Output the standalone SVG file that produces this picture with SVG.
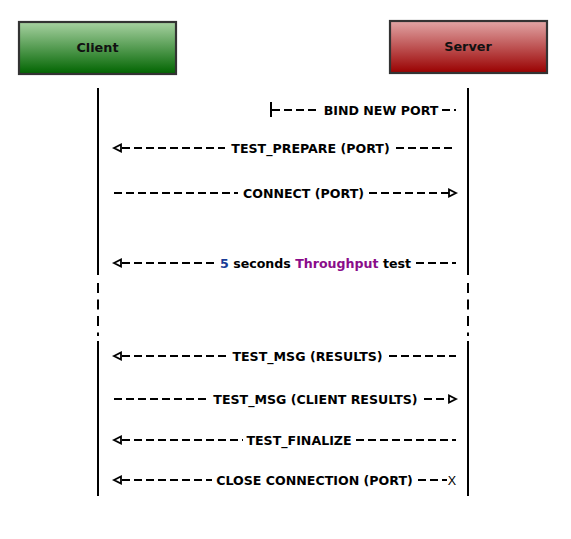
<svg xmlns="http://www.w3.org/2000/svg" width="571" height="539" viewBox="0 0 571 539">
<defs>
<linearGradient id="gC" x1="0" y1="0" x2="0" y2="1">
<stop offset="0" stop-color="#a8d2a2"/>
<stop offset="1" stop-color="#006400"/>
</linearGradient>
<linearGradient id="gS" x1="0" y1="0" x2="0" y2="1">
<stop offset="0" stop-color="#e2a6a6"/>
<stop offset="1" stop-color="#990000"/>
</linearGradient>
</defs>
<style>
.box{stroke:#333;stroke-width:2.2}
.hd{font-family:"DejaVu Sans",sans-serif;font-weight:bold;font-size:12.8px;fill:#111;text-anchor:middle}
.lb{font-family:"DejaVu Sans",sans-serif;font-weight:bold;font-size:12.6px;fill:#000;text-anchor:middle}
.life{stroke:#000;stroke-width:2;fill:none}
.lifed{stroke:#000;stroke-width:2;fill:none;stroke-dasharray:10 6.5}
.m{stroke:#000;stroke-width:1.8;fill:none;stroke-dasharray:8 4}
.ah{fill:#fff;stroke:#000;stroke-width:1.8}
</style>
<rect width="571" height="539" fill="#fff"/>
<g id="client">
<rect class="box" x="19" y="22" width="157" height="52" fill="url(#gC)"/>
<text class="hd" x="97.5" y="52">Client</text>
</g>
<g id="server">
<rect class="box" x="390" y="21" width="157" height="52" fill="url(#gS)"/>
<text class="hd" x="468" y="51">Server</text>
</g>
<g id="lifelines">
<path class="life" d="M98,88 V275 M98,341 V496 M468,88 V275 M468,341 V496"/>
<path class="lifed" d="M98,283 V336 M468,283 V336"/>
</g>
<g id="connectors">
<path d="M271,102 V117" stroke="#000" stroke-width="2"/>
<path class="m" d="M272,110 H320 M442,110 H456"/>
<text class="lb" x="381" y="114.5">BIND NEW PORT</text>
<path class="ah" d="M114,148 L121,144.5 L121,151.5 Z"/>
<path class="m" d="M122,148 H225 M396,148 H456"/>
<text class="lb" x="310.5" y="152.5">TEST_PREPARE (PORT)</text>
<path class="m" d="M114,193 H238 M369,193 H449"/>
<path class="ah" d="M456,193 L449,189.5 L449,196.5 Z"/>
<text class="lb" x="303.5" y="197.5">CONNECT (PORT)</text>
<path class="ah" d="M114,263 L121,259.5 L121,266.5 Z"/>
<path class="m" d="M122,263 H216 M416,263 H456"/>
<text class="lb" x="315.5" y="267.5"><tspan fill="#1a3c96">5</tspan> seconds <tspan fill="#8a0c8a">Throughput</tspan> test</text>
<path class="ah" d="M114,356 L121,352.5 L121,359.5 Z"/>
<path class="m" d="M122,356 H227 M389,356 H456"/>
<text class="lb" x="307.5" y="360.5">TEST_MSG (RESULTS)</text>
<path class="m" d="M114,399 H208 M424,399 H449"/>
<path class="ah" d="M456,399 L449,395.5 L449,402.5 Z"/>
<text class="lb" x="315.5" y="403.5">TEST_MSG (CLIENT RESULTS)</text>
<path class="ah" d="M114,440 L121,436.5 L121,443.5 Z"/>
<path class="m" d="M122,440 H243 M356,440 H456"/>
<text class="lb" x="299" y="444.5">TEST_FINALIZE</text>
<path class="ah" d="M114,480 L121,476.5 L121,483.5 Z"/>
<path class="m" d="M122,480 H212 M418,480 H447"/>
<text class="lb" x="314.5" y="484.5">CLOSE CONNECTION (PORT)</text>
<text x="452" y="484.5" font-family="'Liberation Sans',sans-serif" font-size="12.5px" text-anchor="middle" fill="#000">X</text>
</g>
</svg>
